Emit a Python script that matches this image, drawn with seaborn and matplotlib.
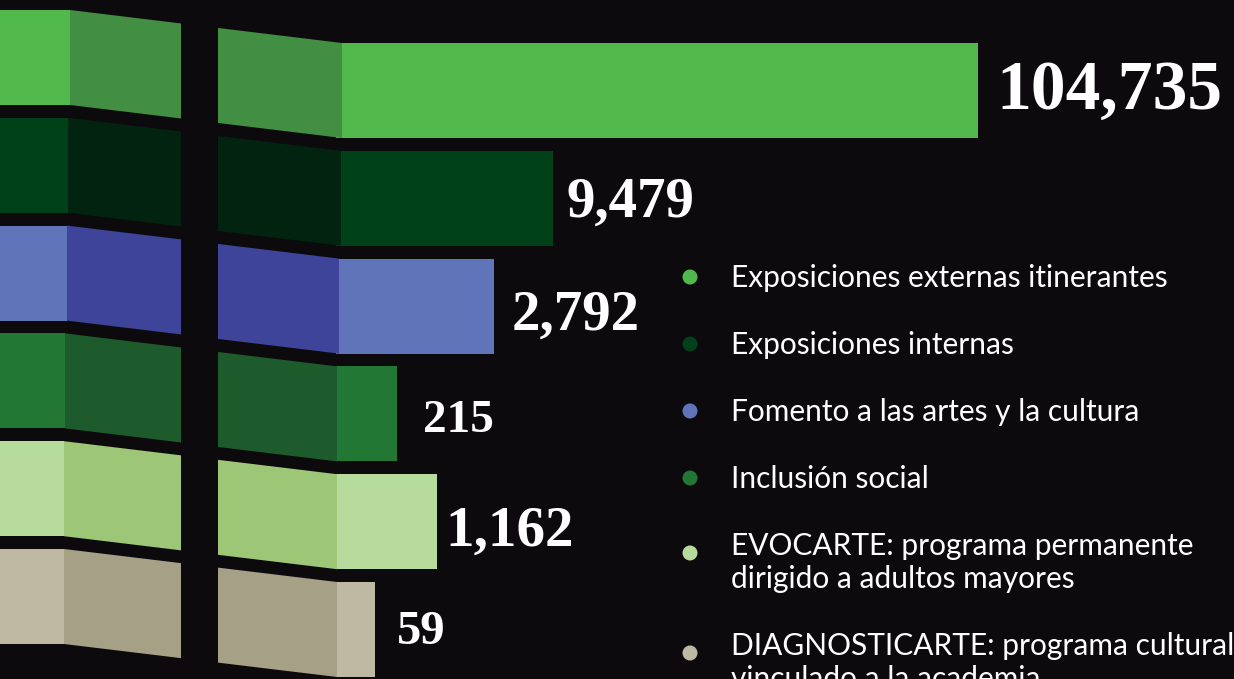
import numpy as np
import pandas as pd
import matplotlib.pyplot as plt
from matplotlib.patches import Polygon, Rectangle, Circle
import seaborn as sns

# datos
categorias = ['Exposiciones externas itinerantes',
              'Exposiciones internas',
              'Fomento a las artes y la cultura',
              'Inclusión social',
              'EVOCARTE: programa permanente\ndirigido a adultos mayores',
              'DIAGNOSTICARTE: programa cultural\nvinculado a la academia']
valores = [104735, 9479, 2792, 215, 1162, 59]
# largo visible de cada barra en la gráfica original (no proporcional al valor)
largo_barra = [642, 217, 158, 61, 101, 39]

color_claro = ['#51b84b', '#01411a', '#6074ba', '#227734', '#b7da9d', '#bfb9a3']
color_oscuro = ['#428e42', '#01230f', '#3d4499', '#1d5b2d', '#9ec677', '#a6a086']
FONDO = '#0d0a0e'

# layout en pixeles
W, H = 1234, 679
Y0 = 10          # arriba de la primera franja
PASO = 107.8     # distancia entre filas
ALTO = 95        # alto de cada barra
CAIDA = 33       # desplazamiento vertical de la perspectiva
BASE = 336
x_pliegue = [70, 68, 67, 65, 64, 64]
x_inicio = [342, 341, 339, 337, 337, 337]
tam_num = [50, 41, 41, 34, 41, 35]
sep_num = [18, 14, 18, 26, 8, 22]
dy_num = [0, 3, 9, 6, 9, 2]

sns.set_style('dark', {'axes.facecolor': FONDO, 'figure.facecolor': FONDO})

fig = plt.figure(figsize=(W / 100, H / 100), dpi=100)
ax = fig.add_axes([0, 0, 1, 1])

n = len(categorias)
df = pd.DataFrame({
    'categoria': categorias,
    'largo': largo_barra,
    'y': [Y0 + CAIDA + ALTO / 2 + PASO * i for i in range(n)],
})

sns.barplot(data=df, x='largo', y='y', hue='categoria', palette=color_claro,
            orient='h', native_scale=True, dodge=False, width=ALTO / PASO,
            left=BASE, legend=False, errorbar=None, saturation=1,
            linewidth=0, ax=ax, zorder=2)

for i in range(n):
    top = Y0 + PASO * i
    # cara frontal izquierda
    ax.add_patch(Rectangle((0, top), x_pliegue[i], ALTO, facecolor=color_claro[i],
                           edgecolor='none', zorder=3))
    # panel en perspectiva
    pts = [(x_pliegue[i], top), (x_inicio[i], top + CAIDA),
           (x_inicio[i], top + CAIDA + ALTO), (x_pliegue[i], top + ALTO)]
    ax.add_patch(Polygon(pts, closed=True, facecolor=color_oscuro[i],
                         edgecolor='none', zorder=3))
    # numero
    fin = BASE + largo_barra[i]
    ax.text(fin + sep_num[i], top + CAIDA + ALTO / 2 + 1 + dy_num[i],
            f'{valores[i]:,}', color='white', fontsize=tam_num[i],
            fontweight='bold', family='Liberation Serif',
            va='center', ha='left', zorder=5)

# columna negra que corta el panel
ax.add_patch(Rectangle((181, 0), 37, H, facecolor=FONDO, edgecolor='none', zorder=4))

# leyenda manual
ly = 264
for i in range(n):
    lineas = categorias[i].count('\n') + 1
    ax.add_patch(Circle((690, ly + 13 + 8 * (lineas - 1)), 7.5,
                        facecolor=color_claro[i], edgecolor='none', zorder=5))
    ax.text(731, ly, categorias[i], color='white', fontsize=21.5, family='Lato',
            va='top', ha='left', linespacing=1.2, zorder=5)
    ly += 33 * lineas + 34

ax.set_xlim(0, W)
ax.set_ylim(H, 0)
ax.axis('off')

fig.savefig('out.png', dpi=100, facecolor=FONDO)
